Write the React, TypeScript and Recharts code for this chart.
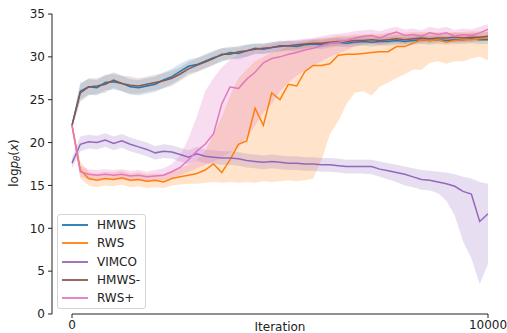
import { ComposedChart, Line, Area, XAxis, YAxis, ReferenceLine } from "recharts";

const ITERATIONS = [
  0, 200, 400, 600, 800, 1000, 1200, 1400, 1600, 1800,
  2000, 2200, 2400, 2600, 2800, 3000, 3200, 3400, 3600, 3800,
  4000, 4200, 4400, 4600, 4800, 5000, 5200, 5400, 5600, 5800,
  6000, 6200, 6400, 6600, 6800, 7000, 7200, 7400, 7600, 7800,
  8000, 8200, 8400, 8600, 8800, 9000, 9200, 9400, 9600, 9800,
  10000,
];

const HMWS = [
  22.0, 26.0, 26.5, 26.4, 27.0, 27.1, 26.9, 26.5, 26.4, 26.6,
  26.8, 27.3, 27.7, 28.3, 28.9, 29.1, 29.5, 29.9, 30.2, 30.5,
  30.4, 30.7, 31.0, 30.9, 31.1, 31.2, 31.3, 31.2, 31.4, 31.5,
  31.4, 31.6, 31.7, 31.6, 31.7, 31.8, 31.7, 31.8, 31.8, 31.9,
  31.8, 31.9, 32.0, 31.9, 32.0, 31.9, 32.0, 32.0, 32.1, 32.0,
  32.0,
];
const HMWS_SD = [
  0.3, 1.0, 0.9, 0.9, 0.9, 0.9, 0.9, 0.9, 0.9, 0.9,
  0.9, 0.9, 0.9, 0.9, 0.8, 0.8, 0.8, 0.8, 0.8, 0.7,
  0.7, 0.7, 0.6, 0.6, 0.6, 0.6, 0.6, 0.6, 0.5, 0.5,
  0.5, 0.5, 0.5, 0.5, 0.5, 0.5, 0.5, 0.5, 0.5, 0.5,
  0.5, 0.5, 0.5, 0.5, 0.5, 0.5, 0.5, 0.5, 0.5, 0.5,
  0.5,
];

const HMWS_MINUS = [
  22.0, 25.8, 26.5, 26.6, 26.8, 27.3, 26.9, 26.7, 26.6, 26.8,
  27.0, 27.2, 27.5, 28.0, 28.6, 29.0, 29.4, 29.8, 30.3, 30.3,
  30.6, 30.7, 30.9, 31.0, 31.1, 31.3, 31.3, 31.4, 31.5, 31.6,
  31.6, 31.7, 31.8, 31.8, 31.9, 31.9, 32.0, 31.9, 32.0, 32.1,
  32.0, 32.1, 32.2, 32.1, 32.2, 32.2, 32.3, 32.2, 32.3, 32.3,
  32.4,
];
const HMWS_MINUS_SD = [
  0.3, 1.0, 1.0, 0.9, 1.0, 0.9, 0.9, 1.0, 0.9, 0.9,
  0.9, 0.9, 0.9, 0.8, 0.8, 0.8, 0.8, 0.8, 0.7, 0.7,
  0.7, 0.7, 0.6, 0.6, 0.6, 0.6, 0.5, 0.5, 0.5, 0.5,
  0.5, 0.5, 0.5, 0.5, 0.5, 0.5, 0.5, 0.5, 0.5, 0.5,
  0.5, 0.5, 0.5, 0.5, 0.5, 0.5, 0.5, 0.5, 0.5, 0.5,
  0.5,
];

const RWS = [
  22.0, 16.8, 15.8, 15.6, 15.8, 15.7, 15.9, 15.6, 15.7, 15.5,
  15.6, 15.4, 15.8, 16.0, 16.2, 16.4, 16.8, 17.5, 16.5, 18.0,
  19.8, 20.2, 24.0, 22.0, 25.8, 25.0, 26.8, 26.6, 28.3, 29.0,
  29.0, 29.2, 30.2, 30.3, 30.3, 30.4, 30.5, 30.6, 30.6, 31.2,
  31.2, 31.6, 32.0, 31.9, 32.0, 31.7, 31.9, 32.0, 32.0, 32.1,
  32.2,
];
const RWS_LO = [
  21.5, 15.8, 15.0, 14.8, 15.0, 14.9, 15.1, 14.8, 14.9, 14.7,
  14.8, 14.7, 15.0, 15.1, 15.2, 15.2, 15.3, 15.4, 15.3, 15.4,
  15.3, 15.4, 15.3, 15.5, 15.4, 15.5, 15.6, 15.5, 15.6, 15.8,
  18.0, 21.0, 22.5, 24.5, 25.8, 26.0, 25.5, 26.5, 27.0, 27.5,
  28.0, 28.5, 28.5, 29.3, 29.5, 29.2, 29.5, 29.5, 29.8, 30.0,
  29.6,
];
const RWS_HI = [
  22.5, 17.8, 16.6, 16.4, 16.6, 16.5, 16.7, 16.4, 16.5, 16.3,
  16.4, 16.3, 16.7, 17.0, 17.4, 18.0, 19.0, 21.0, 23.0, 25.5,
  27.5, 28.5, 29.5, 30.0, 30.5, 30.8, 31.2, 31.5, 31.7, 32.0,
  32.2, 32.3, 32.5, 32.5, 32.6, 32.6, 32.7, 32.7, 32.8, 32.8,
  32.8, 32.9, 32.9, 32.9, 32.9, 32.8, 32.9, 32.9, 33.0, 33.0,
  33.0,
];

const VIMCO = [
  17.6, 19.8, 20.1, 20.0, 20.3, 19.9, 20.2, 19.8, 19.5, 19.2,
  18.8, 19.0, 18.9, 18.6, 18.3, 18.7, 18.4, 18.3, 18.2, 18.2,
  18.1, 17.9, 17.8, 17.7, 17.8, 17.7, 17.6, 17.6, 17.5, 17.5,
  17.4, 17.4, 17.3, 17.2, 17.2, 17.2, 17.2, 16.9, 16.7, 16.5,
  16.3, 16.0, 15.7, 15.6, 15.4, 15.2, 14.9, 14.3, 14.0, 10.8,
  11.7,
];
const VIMCO_LO = [
  17.0, 19.0, 19.3, 19.2, 19.5, 19.1, 19.4, 19.0, 18.7, 18.4,
  18.0, 18.2, 18.1, 17.8, 17.5, 17.9, 17.6, 17.5, 17.4, 17.4,
  17.3, 17.1, 17.0, 16.9, 17.0, 16.9, 16.8, 16.8, 16.7, 16.7,
  16.6, 16.6, 16.5, 16.4, 16.4, 16.4, 16.3, 16.0, 15.7, 15.4,
  15.0, 14.8, 14.5, 14.4, 14.1, 13.2, 11.5, 8.5, 6.5, 3.5,
  5.8,
];
const VIMCO_HI = [
  18.2, 20.7, 20.9, 20.8, 21.1, 20.7, 21.0, 20.6, 20.3, 20.0,
  19.6, 19.8, 19.7, 19.4, 19.1, 19.5, 19.2, 19.1, 19.0, 19.0,
  18.9, 18.7, 18.6, 18.5, 18.6, 18.5, 18.4, 18.4, 18.3, 18.3,
  18.2, 18.2, 18.1, 18.0, 18.0, 18.0, 18.0, 17.8, 17.6, 17.4,
  17.2, 17.0, 16.8, 16.7, 16.6, 16.5, 16.3, 16.0, 15.8, 15.4,
  15.2,
];

const RWS_PLUS = [
  22.0, 16.6, 16.3, 16.2, 16.3, 16.2, 16.3, 16.1, 16.2, 16.0,
  16.1, 16.2, 16.6, 17.1, 18.0, 19.0, 19.8, 21.0, 24.5, 26.5,
  26.3, 27.4, 28.2, 29.3, 29.8, 30.0, 30.3, 30.5, 30.8, 31.0,
  31.3, 31.6, 31.7, 31.9, 32.2, 32.4, 32.5, 32.2, 32.6, 32.9,
  32.5, 32.6, 32.4, 32.8, 32.6, 32.8, 32.4, 32.6, 32.5, 32.8,
  33.2,
];
const RWS_PLUS_LO = [
  21.5, 16.0, 15.7, 15.6, 15.7, 15.6, 15.7, 15.5, 15.6, 15.4,
  15.5, 15.6, 15.9, 16.2, 16.6, 17.0, 17.4, 17.8, 18.3, 18.8,
  19.5, 20.5, 22.0, 23.5, 24.5, 26.0, 27.0, 27.8, 28.4, 29.0,
  29.5, 30.0, 30.4, 30.8, 31.2, 31.5, 31.6, 31.4, 31.8, 32.0,
  31.7, 31.8, 31.6, 32.0, 31.8, 32.0, 31.6, 31.8, 31.7, 32.0,
  32.3,
];
const RWS_PLUS_HI = [
  22.5, 17.3, 16.9, 16.8, 16.9, 16.8, 16.9, 16.7, 16.8, 16.6,
  16.8, 17.0, 17.5, 18.5, 20.5, 23.0, 26.0, 27.5, 28.8, 29.6,
  30.2, 30.7, 31.0, 31.3, 31.5, 31.7, 31.9, 32.0, 32.1, 32.2,
  32.4, 32.6, 32.7, 32.8, 33.0, 33.1, 33.2, 33.0, 33.3, 33.5,
  33.2, 33.3, 33.1, 33.5, 33.3, 33.5, 33.1, 33.3, 33.2, 33.5,
  33.8,
];

const Y_TICKS = [0, 5, 10, 15, 20, 25, 30, 35];
const X_TICKS = [0, 10000];

const SERIES = [
  { key: "hmws", name: "HMWS", color: "#1f77b4", bandOpacity: 0.18 },
  { key: "rws", name: "RWS", color: "#ff7f0e", bandOpacity: 0.22 },
  { key: "vimco", name: "VIMCO", color: "#9467bd", bandOpacity: 0.22 },
  { key: "hmwsMinus", name: "HMWS-", color: "#8c564b", bandOpacity: 0.18 },
  { key: "rwsPlus", name: "RWS+", color: "#e377c2", bandOpacity: 0.25 },
];

const data = ITERATIONS.map((iter, i) => ({
  iter,
  hmws: HMWS[i],
  hmwsBand: [HMWS[i] - HMWS_SD[i], HMWS[i] + HMWS_SD[i]],
  rws: RWS[i],
  rwsBand: [RWS_LO[i], RWS_HI[i]],
  vimco: VIMCO[i],
  vimcoBand: [VIMCO_LO[i], VIMCO_HI[i]],
  hmwsMinus: HMWS_MINUS[i],
  hmwsMinusBand: [HMWS_MINUS[i] - HMWS_MINUS_SD[i], HMWS_MINUS[i] + HMWS_MINUS_SD[i]],
  rwsPlus: RWS_PLUS[i],
  rwsPlusBand: [RWS_PLUS_LO[i], RWS_PLUS_HI[i]],
}));

const FONT = "'DejaVu Sans', sans-serif";
const tickStyle = { fontFamily: FONT, fontSize: 12, fill: "#222" };

const YLabel = () => (
  <text
    transform="translate(18,163) rotate(-90)"
    textAnchor="middle"
    fontFamily={FONT}
    fontSize={12}
    fill="#222"
  >
    log<tspan fontStyle="italic">p</tspan>
    <tspan fontStyle="italic" fontSize={8.5} dy={2}>θ</tspan>
    <tspan dy={-2}>(</tspan>
    <tspan fontStyle="italic">x</tspan>)
  </text>
);

const XLabel = () => (
  <text x={280} y={331} textAnchor="middle" fontFamily={FONT} fontSize={12} fill="#222">
    Iteration
  </text>
);

// legend drawn as an overlay so it doesn't eat into the plot area
const ChartLegend = () => (
  <div
    style={{
      position: "absolute",
      left: 57,
      top: 214,
      width: 87,
      height: 92,
      border: "1px solid #d5d5d5",
      borderRadius: 3,
      background: "rgba(255,255,255,0.8)",
      fontFamily: FONT,
      fontSize: 12,
      color: "#222",
      paddingTop: 1,
      boxSizing: "content-box",
    }}
  >
    {SERIES.map((s) => (
      <div key={s.key} style={{ display: "flex", alignItems: "center", height: 18.3 }}>
        <svg width={26} height={4} style={{ marginLeft: 4, marginRight: 9, display: "block" }}>
          <line x1={0} y1={2} x2={26} y2={2} stroke={s.color} strokeWidth={1.8} />
        </svg>
        <span>{s.name}</span>
      </div>
    ))}
  </div>
);

export default function App() {
  return (
    <div style={{ position: "absolute", left: 0, top: 0, width: 507, height: 333, background: "#fff" }}>
      <ComposedChart
        width={507}
        height={333}
        data={data}
        margin={{ top: 14, right: 19, bottom: 0, left: 0 }}
      >
        <XAxis
          dataKey="iter"
          type="number"
          domain={[0, 10000]}
          ticks={X_TICKS}
          padding={{ left: 20, right: 0 }}
          axisLine={false}
          tickLine={{ stroke: "#222" }}
          tickSize={4}
          tick={tickStyle}
          height={19}
          label={{ content: () => <XLabel /> }}
        />
        <YAxis
          type="number"
          domain={[0, 35]}
          ticks={Y_TICKS}
          width={52}
          axisLine={{ stroke: "#222" }}
          tickLine={{ stroke: "#222" }}
          tickSize={4}
          tickMargin={3}
          tick={tickStyle}
          label={{ content: () => <YLabel /> }}
        />
        {SERIES.map((s) => (
          <Area
            key={`${s.key}-band`}
            dataKey={`${s.key}Band`}
            stroke="none"
            fill={s.color}
            fillOpacity={s.bandOpacity}
            isAnimationActive={false}
            activeDot={false}
          />
        ))}
        {SERIES.map((s) => (
          <Line
            key={s.key}
            dataKey={s.key}
            stroke={s.color}
            strokeWidth={1.5}
            dot={false}
            isAnimationActive={false}
          />
        ))}
        <ReferenceLine
          segment={[{ x: 0, y: 0 }, { x: 10000, y: 0 }]}
          stroke="#222"
          strokeWidth={1}
        />
      </ComposedChart>
      <ChartLegend />
    </div>
  );
}
